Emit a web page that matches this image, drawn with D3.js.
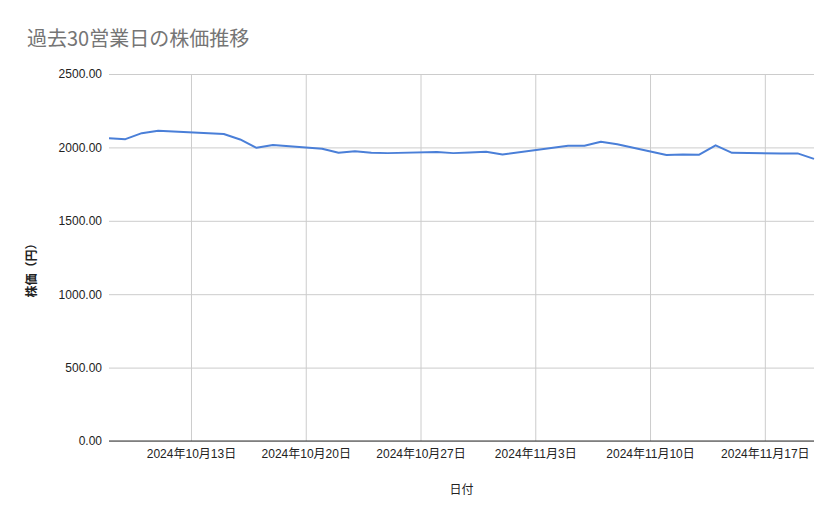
<!DOCTYPE html>
<html>
<head>
<meta charset="utf-8">
<title>過去30営業日の株価推移</title>
<style>
  body { margin: 0; background: #fff; }
  svg { display: block; }
</style>
</head>
<body>
<script src="https://cdn.jsdelivr.net/npm/d3@7"></script>
<script>
// business days (2024) and closing price
var dates = [
  "2024-10-08", "2024-10-09", "2024-10-10", "2024-10-11",
  "2024-10-15", "2024-10-16", "2024-10-17", "2024-10-18",
  "2024-10-21", "2024-10-22", "2024-10-23", "2024-10-24", "2024-10-25",
  "2024-10-28", "2024-10-29", "2024-10-30", "2024-10-31", "2024-11-01",
  "2024-11-05", "2024-11-06", "2024-11-07", "2024-11-08",
  "2024-11-11", "2024-11-12", "2024-11-13", "2024-11-14", "2024-11-15",
  "2024-11-18", "2024-11-19", "2024-11-20"
];
var prices = [
  2063, 2056, 2097, 2113,
  2091, 2054, 1997, 2016,
  1991, 1963, 1973, 1963, 1961,
  1968, 1961, 1966, 1970, 1952,
  2011, 2011, 2038, 2022,
  1948, 1952, 1950, 2014, 1963,
  1959, 1959, 1922
];
var yTicks = [0, 500, 1000, 1500, 2000, 2500];
var xTicks = ["2024-10-13", "2024-10-20", "2024-10-27", "2024-11-03", "2024-11-10", "2024-11-17"];

var W = 839, H = 519;
var m = { left: 109, right: 25, top: 74, bottom: 78 };

var parse = d3.timeParse("%Y-%m-%d");
var data = dates.map(function (d, i) { return { date: parse(d), value: prices[i] }; });

var svg = d3.select("body").append("svg")
  .attr("width", W)
  .attr("height", H);

var x = d3.scaleTime()
  .domain([parse(dates[0]), parse(dates[dates.length - 1])])
  .range([m.left, W - m.right]);

var y = d3.scaleLinear()
  .domain([0, 2500])
  .range([H - m.bottom, m.top]);

var font = "Arial, 'Liberation Sans', 'Noto Sans CJK JP', sans-serif";

// title
svg.append("text")
  .attr("x", 27)
  .attr("y", 46)
  .attr("font-family", "'Noto Sans CJK JP', sans-serif")
  .attr("font-size", 20)
  .attr("fill", "#757575")
  .text("過去30営業日の株価推移");

// horizontal gridlines + y labels
var yAxis = svg.append("g")
  .attr("transform", "translate(" + m.left + ",0)")
  .call(d3.axisLeft(y).tickValues(yTicks)
    .tickSize(-(W - m.left - m.right))
    .tickPadding(7)
    .tickFormat(d3.format(".2f")));
yAxis.select(".domain").remove();
yAxis.selectAll(".tick line").attr("stroke", "#cccccc");
yAxis.selectAll(".tick text")
  .attr("font-family", font)
  .attr("font-size", 12)
  .attr("fill", "#222");

// vertical gridlines + x labels
var fmt = function (d) { return (d.getFullYear()) + "年" + (d.getMonth() + 1) + "月" + d.getDate() + "日"; };
var xAxis = svg.append("g")
  .attr("transform", "translate(0," + (H - m.bottom) + ")")
  .call(d3.axisBottom(x).tickValues(xTicks.map(parse))
    .tickSize(-(H - m.top - m.bottom))
    .tickPadding(8)
    .tickFormat(fmt));
xAxis.select(".domain").remove();
xAxis.selectAll(".tick line").attr("stroke", "#cccccc");
xAxis.selectAll(".tick text")
  .attr("font-family", font)
  .attr("font-size", 12)
  .attr("fill", "#222");

// baseline at zero
svg.append("line")
  .attr("x1", m.left)
  .attr("x2", W - m.right)
  .attr("y1", y(0))
  .attr("y2", y(0))
  .attr("stroke", "#333")
  .attr("stroke-width", 1);

// price line
var line = d3.line()
  .x(function (d) { return x(d.date); })
  .y(function (d) { return y(d.value); });

svg.append("path")
  .datum(data)
  .attr("d", line)
  .attr("fill", "none")
  .attr("stroke", "#4a7fd8")
  .attr("stroke-width", 2)
  .attr("stroke-linejoin", "round");

// axis titles
svg.append("text")
  .attr("x", (m.left + W - m.right) / 2)
  .attr("y", 494)
  .attr("text-anchor", "middle")
  .attr("font-family", font)
  .attr("font-size", 12)
  .attr("fill", "#222")
  .text("日付");

svg.append("text")
  .attr("transform", "translate(36," + ((m.top + H - m.bottom) / 2 + 10) + ") rotate(-90)")
  .attr("text-anchor", "middle")
  .attr("font-family", font)
  .attr("font-size", 12)
  .attr("font-weight", "bold")
  .attr("fill", "#222")
  .text("株価（円）");
</script>
</body>
</html>
